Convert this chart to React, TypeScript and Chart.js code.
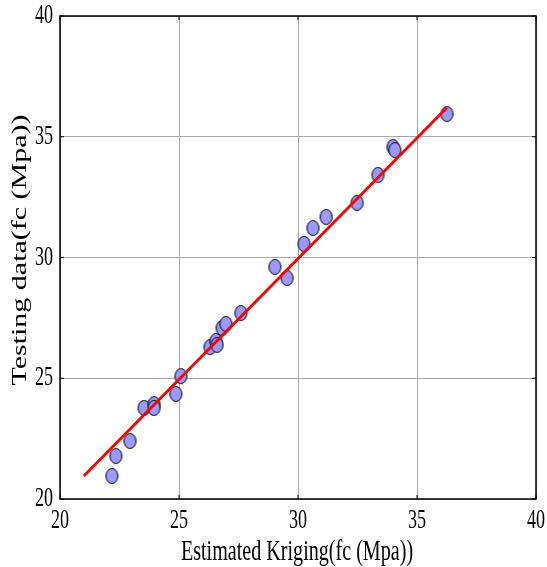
import React, { useEffect, useRef } from "react";
import { Chart, registerables } from "chart.js";

Chart.register(...registerables);

const estimated = [22.18, 22.35, 22.94, 23.53, 23.95, 23.95, 24.87, 25.08, 26.30, 26.55, 26.60, 26.81, 26.97, 27.60, 29.03, 29.54, 30.25, 30.63, 31.18, 32.48, 33.36, 33.99, 34.07, 36.26];
const testing = [20.95, 21.78, 22.40, 23.77, 23.93, 23.77, 24.35, 25.09, 26.29, 26.54, 26.38, 27.08, 27.25, 27.70, 29.61, 29.15, 30.56, 31.22, 31.68, 32.26, 33.42, 34.58, 34.45, 35.94];
const fitX = [21.0, 36.25];
const fitY = [20.95, 36.2];
const tickValues = [20, 25, 30, 35, 40];
const xTitle = "Estimated Kriging(fc (Mpa))";
const yTitle = "Testing data(fc (Mpa))";

const FAMILY = "'Liberation Serif', 'Times New Roman', serif";
const SQUISH = 0.67;

function drawText(ctx: CanvasRenderingContext2D, text: string, x: number, y: number, size: number, align: CanvasTextAlign, baseline: CanvasTextBaseline, rotated: boolean) {
  ctx.save();
  ctx.translate(x, y);
  if (rotated) {
    ctx.rotate(-Math.PI / 2);
    ctx.scale(1, SQUISH);
  } else {
    ctx.scale(SQUISH, 1);
  }
  ctx.font = `${size}px ${FAMILY}`;
  ctx.fillStyle = "#000";
  ctx.textAlign = align;
  ctx.textBaseline = baseline;
  ctx.fillText(text, 0, 0);
  ctx.restore();
}

function makeMarker(): HTMLCanvasElement {
  const c = document.createElement("canvas");
  c.width = 15;
  c.height = 18;
  const g = c.getContext("2d")!;
  g.beginPath();
  g.ellipse(7.5, 9, 6, 7.5, 0, 0, Math.PI * 2);
  g.fillStyle = "#9999ff";
  g.fill();
  g.lineWidth = 1;
  g.strokeStyle = "#000";
  g.stroke();
  return c;
}

const textPlugin = {
  id: "matlabText",
  afterDraw(chart: any) {
    const ctx = chart.ctx as CanvasRenderingContext2D;
    const xs = chart.scales.x;
    const ys = chart.scales.y;
    const area = chart.chartArea;
    ctx.save();
    ctx.strokeStyle = "#000";
    ctx.lineWidth = 1.5;
    ctx.strokeRect(area.left, area.top, area.right - area.left, area.bottom - area.top);
    ctx.lineWidth = 1;
    tickValues.forEach((v) => {
      const px = xs.getPixelForValue(v);
      ctx.beginPath();
      ctx.moveTo(px, area.bottom);
      ctx.lineTo(px, area.bottom - 4);
      ctx.moveTo(px, area.top);
      ctx.lineTo(px, area.top + 4);
      const py = ys.getPixelForValue(v);
      ctx.moveTo(area.left, py);
      ctx.lineTo(area.left + 4, py);
      ctx.moveTo(area.right, py);
      ctx.lineTo(area.right - 4, py);
      ctx.stroke();
    });
    ctx.restore();
    tickValues.forEach((v) => {
      drawText(ctx, String(v), xs.getPixelForValue(v), area.bottom + 22, 27, "center", "middle", false);
      drawText(ctx, String(v), area.left - 7, ys.getPixelForValue(v), 27, "right", "middle", false);
    });
    drawText(ctx, xTitle, (area.left + area.right) / 2 - 1, area.bottom + 61, 30, "center", "alphabetic", false);
    drawText(ctx, yTitle, 26, 250, 30, "center", "alphabetic", true);
  },
};

export default function App() {
  const ref = useRef<HTMLCanvasElement>(null);
  useEffect(() => {
    if (!ref.current) return;
    const marker = makeMarker();
    const chart = new Chart(ref.current, {
      type: "scatter",
      data: {
        datasets: [
          {
            type: "line",
            data: fitX.map((x, i) => ({ x, y: fitY[i] })),
            borderColor: "#ff0000",
            borderWidth: 2.8,
            pointRadius: 0,
            order: 0,
          } as any,
          {
            data: estimated.map((x, i) => ({ x, y: testing[i] })),
            pointStyle: marker as any,
            pointRadius: 7,
            order: 1,
          },
        ],
      },
      options: {
        animation: false,
        responsive: false,
        maintainAspectRatio: false,
        layout: { padding: { top: 16, right: 11, left: 0, bottom: 0 } },
        plugins: { legend: { display: false }, tooltip: { enabled: false } },
        scales: {
          x: {
            type: "linear",
            min: 20,
            max: 40,
            afterBuildTicks: (s: any) => { s.ticks = tickValues.map((v) => ({ value: v })); },
            afterFit: (s: any) => { s.height = 68; },
            grid: { color: "#a8a8a8", lineWidth: 1, drawTicks: false },
            border: { display: false },
            ticks: { display: false },
          },
          y: {
            type: "linear",
            min: 20,
            max: 40,
            afterBuildTicks: (s: any) => { s.ticks = tickValues.map((v) => ({ value: v })); },
            afterFit: (s: any) => { s.width = 60; },
            grid: { color: "#a8a8a8", lineWidth: 1, drawTicks: false },
            border: { display: false },
            ticks: { display: false },
          },
        },
      },
      plugins: [textPlugin],
    });
    return () => chart.destroy();
  }, []);
  return (
    <div style={{ position: "fixed", left: 0, top: 0, width: 547, height: 567, background: "#fff" }}>
      <canvas ref={ref} width={547} height={567} style={{ width: 547, height: 567 }} />
    </div>
  );
}
